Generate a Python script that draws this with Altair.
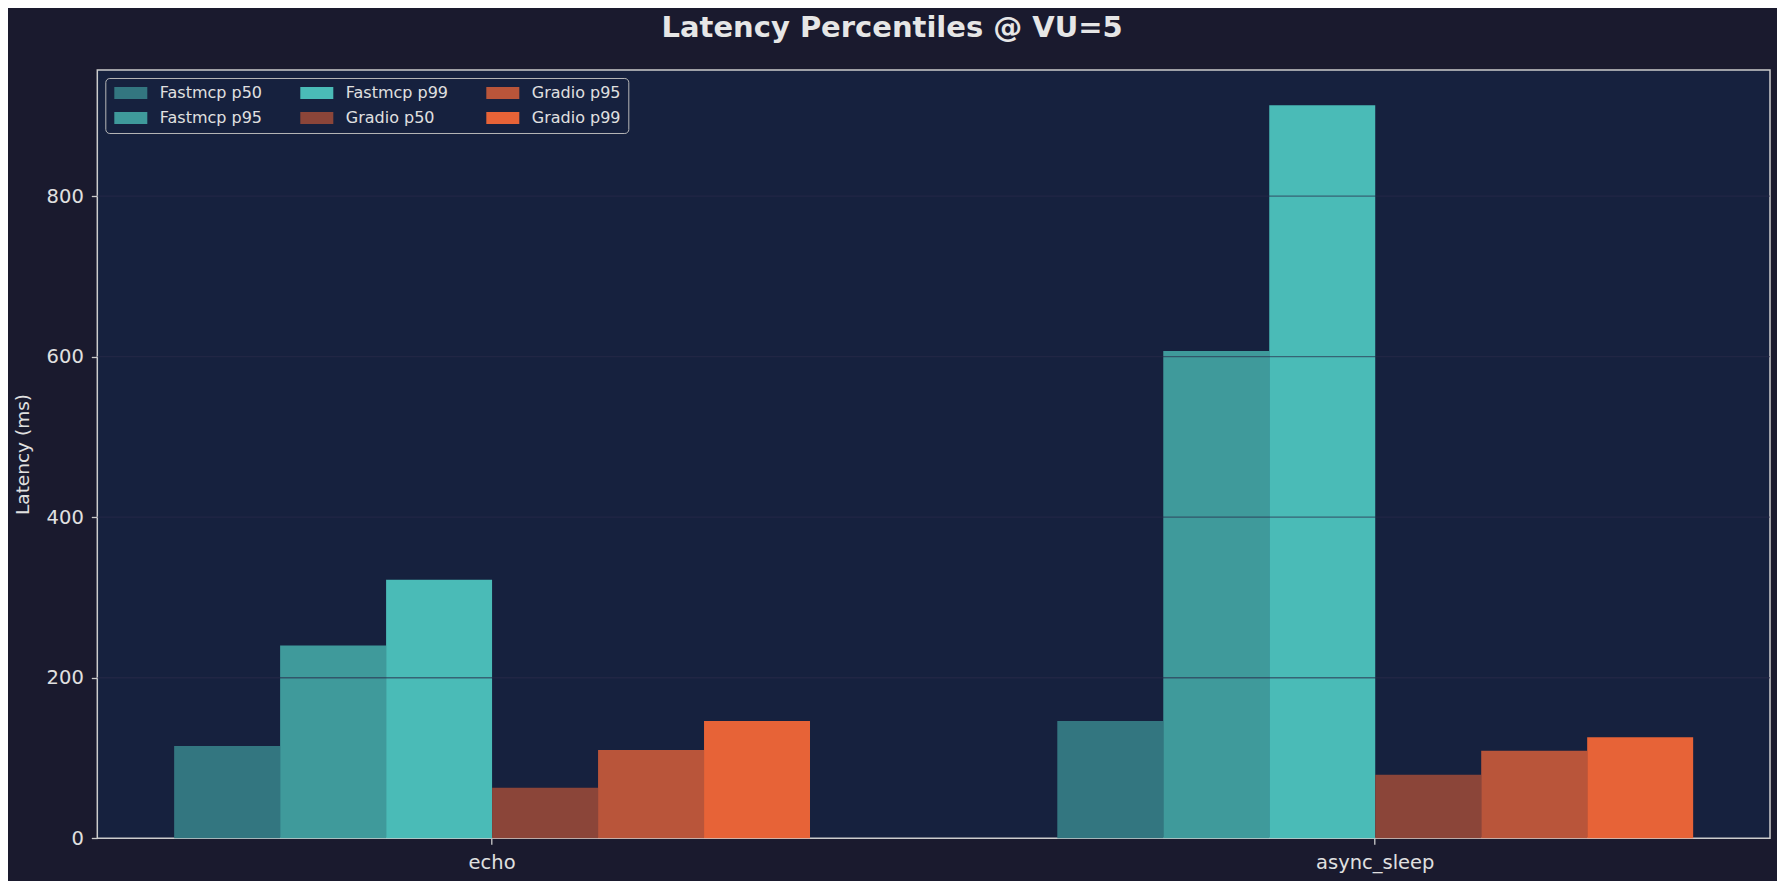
import altair as alt
import pandas as pd

# ---- data ----
categories = ["echo", "async_sleep"]
series = ["Fastmcp p50", "Fastmcp p95", "Fastmcp p99", "Gradio p50", "Gradio p95", "Gradio p99"]
echo_vals = [115, 240, 322, 63, 110, 146]
async_sleep_vals = [146, 607, 913, 79, 109, 126]
series_colors = ["#337680", "#3f9a9b", "#4abbb7", "#8b4539", "#b9553a", "#e76337"]
grid_values = [200, 400, 600, 800]
y_tick_values = [0, 200, 400, 600, 800]

rows = []
for cat, vals in zip(categories, [echo_vals, async_sleep_vals]):
    for s, v in zip(series, vals):
        rows.append({"test": cat, "series": s, "latency": v})
df = pd.DataFrame(rows)
grid_df = pd.DataFrame({"g": grid_values})

FONT = "DejaVu Sans"
TXT = "#e0e0e0"

y_scale = alt.Scale(domain=[0, 957], nice=False, zero=True)

bars = alt.Chart(df).mark_bar(opacity=1, strokeWidth=0).encode(
    x=alt.X("test:N", sort=categories, title=None,
            scale=alt.Scale(paddingInner=0.28, paddingOuter=0.087),
            axis=alt.Axis(labelAngle=0, labelFontSize=19.5, labelColor=TXT, labelFont=FONT,
                          tickColor="#cccccc", tickSize=6, tickWidth=1.3, labelPadding=9,
                          domain=False, grid=False)),
    xOffset=alt.XOffset("series:N", scale=alt.Scale(domain=series, paddingInner=0, paddingOuter=0)),
    y=alt.Y("latency:Q", scale=y_scale, title="Latency (ms)",
            axis=alt.Axis(values=y_tick_values, labelFontSize=19.5, labelColor=TXT, labelFont=FONT,
                          tickColor="#cccccc", tickSize=6, tickWidth=1.3, labelPadding=8,
                          domain=False, grid=False, titleFontSize=18.5, titleFont=FONT,
                          titleColor=TXT, titleFontWeight="normal", titleX=-75, titleY=384,
                          titleBaseline="middle", titleAngle=270)),
    color=alt.Color("series:N",
                    scale=alt.Scale(domain=series, range=series_colors),
                    legend=alt.Legend(title=None, orient="top-left", offset=8, padding=7,
                                      columns=3, columnPadding=36, rowPadding=9,
                                      symbolType="M-2.75,-1L2.75,-1L2.75,1L-2.75,1Z",
                                      symbolSize=144, symbolOffset=10.5,
                                      symbolStrokeWidth=0, symbolOpacity=1,
                                      labelFontSize=16, labelFont=FONT, labelColor=TXT,
                                      labelOffset=21, labelLimit=300,
                                      fillColor="#16213e", strokeColor="#b8b8b8",
                                      cornerRadius=4)),
)

grid = alt.Chart(grid_df).mark_rule(color="#2a2a4a", opacity=0.6, strokeWidth=1.3).encode(
    y=alt.Y("g:Q", scale=y_scale)
)

chart = alt.layer(bars, grid).properties(
    width=1672.7,
    height=768.3,
    padding={"left": 89.3, "top": 62, "right": 7, "bottom": 43},
    autosize=alt.AutoSizeParams(type="none"),
    title=alt.TitleParams("Latency Percentiles @ VU=5", fontSize=29, fontWeight="bold",
                          font=FONT, color="#e6e6e6", anchor="middle", dx=-41.5, offset=27),
).configure(
    background="#1a1a2e",
).configure_view(
    fill="#16213e", stroke="#cccccc", strokeWidth=1.5
)

chart.save("out.html", embed_options={"renderer": "svg", "actions": False})
